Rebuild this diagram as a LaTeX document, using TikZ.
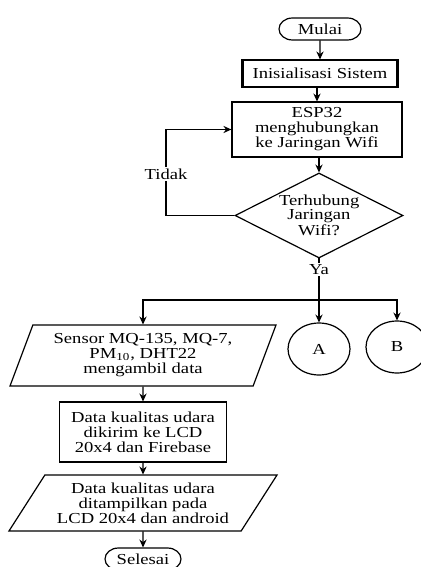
\documentclass[tikz,border=0pt]{standalone}
\usepackage{fontspec}
\setmainfont{Liberation Serif}
\usepackage{tikz}
\usetikzlibrary{arrows.meta,positioning,shapes.geometric,shapes.misc,calc}

\begin{document}
\begin{tikzpicture}[
  x=0.5pt, y=-0.5pt,
  every node/.style={font=\fontsize{9.3}{9.2}\selectfont, align=center, inner sep=0pt, yscale=0.82},
  line width=0.6pt,
  terminal/.style={draw, rounded rectangle, minimum width=41pt, minimum height=13.4pt},
  process/.style={draw, rectangle},
  io/.style={draw, trapezium, trapezium stretches body},
  decision/.style={draw, diamond, aspect=1.62, text width=40pt},
  connector/.style={draw, ellipse, minimum width=31pt, minimum height=31.7pt},
  arr/.style={-{Stealth[length=4pt, width=3.6pt]}}
]
  % fixed frame (reference size 421 x 567)
  \useasboundingbox (0,0) rectangle (421,567);

  % Main column (x = 320)
  \node[terminal] (mulai) at (320, 29) {Mulai};
  \node[process, minimum width=77pt, minimum height=16.5pt] (init) at (320, 73.5) {Inisialisasi Sistem};
  \node[process, minimum width=85pt, minimum height=33.5pt] (esp) at (317, 129.5) {ESP32\\menghubungkan\\ke Jaringan Wifi};
  \node[decision, font=\fontsize{9.3}{8.4}\selectfont, minimum width=84pt, minimum height=51.8pt] (cek) at (319, 215.5) {Terhubung\\Jaringan\\Wifi?};

  % Connectors A and B
  \node[connector] (A) at (319, 349) {A};
  \node[connector] (B) at (397, 347) {B};

  % Left column (x = 143)
  \node[io, trapezium left angle=66.7, trapezium right angle=113.3, minimum width=133pt, minimum height=37.2pt] (sensor) at (143, 355.5) {Sensor MQ-135, MQ-7,\\PM\textsubscript{10}, DHT22\\mengambil data};
  \node[process, minimum width=83.5pt, minimum height=36.6pt] (kirim) at (143, 432) {Data kualitas udara\\dikirim ke LCD\\20x4 dan Firebase};
  \node[io, trapezium left angle=54.3, trapezium right angle=125.7, minimum width=134pt, minimum height=34.1pt] (tampil) at (143, 503) {Data kualitas udara\\ditampilkan pada\\LCD 20x4 dan android};
  \node[terminal, minimum width=38pt] (selesai) at (143, 559) {Selesai};

  % thick side edges of the init box
  \draw[line width=1.2pt] (init.north west) -- (init.south west);
  \draw[line width=1.2pt] (init.north east) -- (init.south east);

  % Flow
  \draw[arr] (mulai) -- (init);
  \draw[arr] (init.south -| esp) -- (esp);
  \draw[arr] (esp.south -| cek) -- (cek);

  % Tidak loop back to ESP32
  \coordinate (loop) at (166, 129.5);
  \draw[arr] (cek.west) -| node (tidak) [pos=0.74, fill=white, inner sep=1pt] {Tidak} (loop) -- (esp.west);

  % Ya branch
  \coordinate (split) at (319, 300);
  \draw[arr] (cek.south) -- node (ya) [pos=0.17, fill=white, inner sep=1pt] {Ya} (A.north);
  \draw[arr] (split) -| (sensor.north);
  \draw[arr] (split) -| (B.north);

  \draw[arr] (sensor) -- (kirim);
  \draw[arr] (kirim) -- (tampil);
  \draw[arr] (tampil) -- (selesai);

\end{tikzpicture}
\end{document}
